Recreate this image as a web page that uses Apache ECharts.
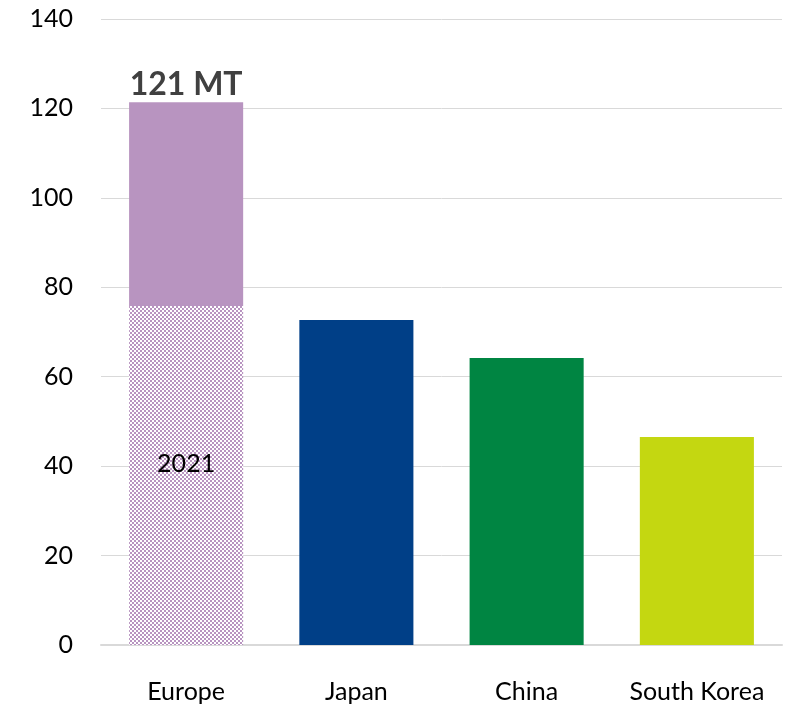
<!DOCTYPE html>
<html><head><meta charset="utf-8">
<script src="https://cdn.jsdelivr.net/npm/echarts@6/dist/echarts.min.js"></script>
<style>html,body{margin:0;padding:0;background:#fff}#c{width:788px;height:708px}</style>
</head><body><div id="c"></div>
<script>
const categories = ['Europe', 'Japan', 'China', 'South Korea'];
const base2021 = [75.8, 72.7, 64.2, 46.5];
const growth = [45.6, null, null, null];
const totalLabel = '121 MT';
const yearLabel = '2021';
const colors = ['#b894c0', '#003f87', '#008542', '#c4d711'];

const tile = document.createElement('canvas');
tile.width = 4; tile.height = 4;
const g = tile.getContext('2d');
g.fillStyle = '#b894c0'; g.fillRect(0, 0, 4, 4);
g.fillStyle = '#ffffff'; g.fillRect(0, 0, 2, 2); g.fillRect(2, 2, 2, 2);
const pattern = { image: tile, repeat: 'repeat' };

const chart = echarts.init(document.getElementById('c'));
const font = 'Lato, "Noto Sans", sans-serif';
chart.setOption({
  animation: false,
  grid: { left: 101, right: 6, top: 19, bottom: 63 },
  xAxis: {
    type: 'category', data: categories,
    axisLine: { lineStyle: { color: '#d9d9d9', width: 2 } },
    axisTick: { show: false },
    axisLabel: { interval: 0, hideOverlap: false, color: '#000', fontSize: 25, fontFamily: font, margin: 34 }
  },
  yAxis: {
    type: 'value', min: 0, max: 140, interval: 20,
    axisLine: { show: false }, axisTick: { show: false },
    splitLine: { lineStyle: { color: '#d9d9d9', width: 1 } },
    axisLabel: { color: '#000', fontSize: 25, fontFamily: font, margin: 28 }
  },
  series: [
    {
      type: 'bar', stack: 's', barWidth: '67%',
      data: base2021.map((v, i) => ({
        value: v,
        itemStyle: { color: i === 0 ? pattern : colors[i] },
        label: i === 0 ? { show: true, position: 'inside', offset: [0, -12], formatter: yearLabel, color: '#000', fontSize: 25, fontFamily: font } : { show: false }
      }))
    },
    {
      type: 'bar', stack: 's', barWidth: '67%',
      itemStyle: { color: colors[0] },
      data: growth,
      label: { show: true, position: 'top', formatter: totalLabel, color: '#404040', fontSize: 32, fontWeight: 'bold', fontFamily: font, distance: 1 }
    }
  ]
});
</script></body></html>
